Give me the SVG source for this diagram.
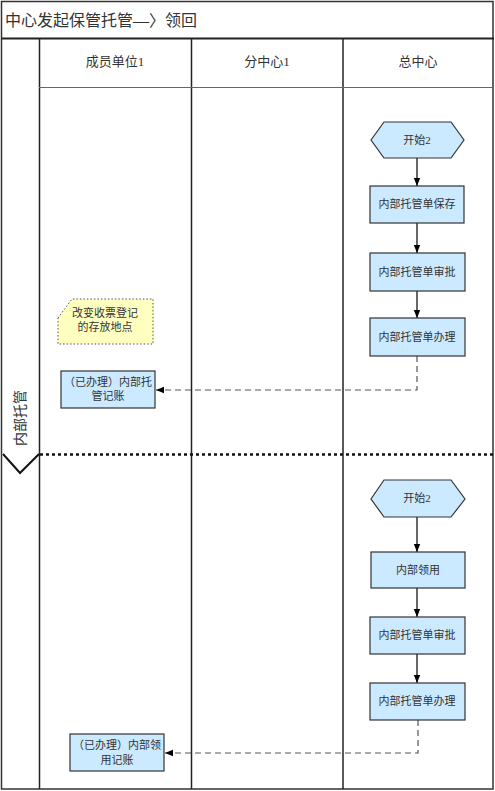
<svg xmlns="http://www.w3.org/2000/svg" width="495" height="791" viewBox="0 0 495 791">
<defs>
<style>
text{font-family:"Liberation Serif","Noto Sans CJK SC",serif;fill:#333;}
.t{font-size:11px;text-anchor:middle;}
.h{font-size:13px;text-anchor:middle;}
.box{fill:#cceaff;stroke:#333;stroke-width:1.2;}
.line{stroke:#222;stroke-width:1.5;fill:none;}
.flow{stroke:#000;stroke-width:1.2;fill:none;}
.dash{stroke:#555;stroke-width:1.2;fill:none;stroke-dasharray:6,4;}
</style>
<marker id="arr" viewBox="0 0 10 10" refX="10" refY="5" markerWidth="7" markerHeight="7" orient="auto">
<path d="M0,1 L10,5 L0,9 z" fill="#000"/>
</marker>
</defs>
<rect x="0" y="0" width="495" height="791" fill="#fff"/>
<g id="frame">
<rect x="1.5" y="1.5" width="491.5" height="787.5" fill="none" stroke="#333" stroke-width="1.5"/>
<line x1="1" y1="38.5" x2="494" y2="38.5" stroke="#222" stroke-width="2"/>
<text x="5" y="26" style="font-size:16px;">中心发起保管托管—〉领回</text>
<line class="line" x1="39.5" y1="38" x2="39.5" y2="789"/>
<line class="line" x1="191.5" y1="38" x2="191.5" y2="789"/>
<line class="line" x1="343" y1="38" x2="343" y2="789"/>
<line x1="39" y1="87.5" x2="493" y2="87.5" stroke="#666" stroke-width="1"/>
<text class="h" x="115" y="66">成员单位1</text>
<text class="h" x="267" y="66">分中心1</text>
<text class="h" x="418" y="66">总中心</text>
<text class="h" transform="translate(25,418) rotate(-90)" style="font-size:14px;">内部托管</text>
<path d="M3,454 L20,473 L39,454" fill="none" stroke="#111" stroke-width="2"/>
<line x1="40" y1="454.5" x2="493" y2="454.5" stroke="#111" stroke-width="2.5" stroke-dasharray="3,3"/>
</g>
<g id="connectors">
<line class="flow" x1="417" y1="158" x2="417" y2="186" marker-end="url(#arr)"/>
<line class="flow" x1="417" y1="223" x2="417" y2="253" marker-end="url(#arr)"/>
<line class="flow" x1="417" y1="291" x2="417" y2="318" marker-end="url(#arr)"/>
<path class="dash" d="M417,356 V390 H156" marker-end="url(#arr)"/>
<line class="flow" x1="417" y1="517" x2="417" y2="552" marker-end="url(#arr)"/>
<line class="flow" x1="417" y1="588" x2="417" y2="617" marker-end="url(#arr)"/>
<line class="flow" x1="417" y1="654" x2="417" y2="683" marker-end="url(#arr)"/>
<path class="dash" d="M418,720 V753 H165" marker-end="url(#arr)"/>
</g>
<g id="start1">
<polygon class="box" points="371,140 384,122 451,122 464,140 451,158 384,158"/>
<text class="t" x="417" y="144">开始2</text>
</g>
<g id="save">
<rect class="box" x="370" y="186" width="94" height="37"/>
<text class="t" x="417" y="208">内部托管单保存</text>
</g>
<g id="approve1">
<rect class="box" x="370" y="253" width="95" height="38"/>
<text class="t" x="417" y="276">内部托管单审批</text>
</g>
<g id="handle1">
<rect class="box" x="370" y="318" width="95" height="38"/>
<text class="t" x="417" y="341">内部托管单办理</text>
</g>
<g id="note">
<path d="M58,318 L72,299 H153 V344 H58 Z" fill="#ffffc0" stroke="#555" stroke-width="1" stroke-dasharray="1.5,2"/>
<text class="t" x="105" y="317">改变收票登记</text>
<text class="t" x="105" y="331">的存放地点</text>
</g>
<g id="record1">
<rect class="box" x="61" y="371" width="94" height="37"/>
<text class="t" x="108" y="386">（已办理）内部托</text>
<text class="t" x="108" y="400">管记账</text>
</g>
<g id="start2">
<polygon class="box" points="371,499 384,480 451,480 465,499 451,517 384,517"/>
<text class="t" x="417" y="502">开始2</text>
</g>
<g id="use">
<rect class="box" x="371" y="552" width="94" height="36"/>
<text class="t" x="418" y="574">内部领用</text>
</g>
<g id="approve2">
<rect class="box" x="370" y="617" width="95" height="37"/>
<text class="t" x="417" y="639">内部托管单审批</text>
</g>
<g id="handle2">
<rect class="box" x="370" y="683" width="95" height="37"/>
<text class="t" x="417" y="705">内部托管单办理</text>
</g>
<g id="record2">
<rect class="box" x="70" y="734" width="94" height="37"/>
<text class="t" x="117" y="749">（已办理）内部领</text>
<text class="t" x="117" y="764">用记账</text>
</g>
</svg>
